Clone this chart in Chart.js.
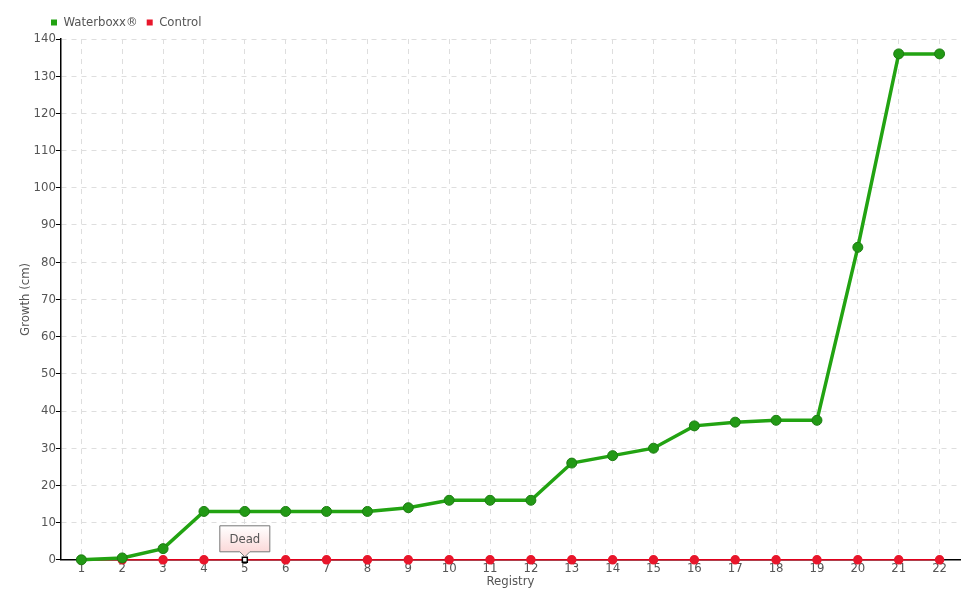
<!DOCTYPE html>
<html>
<head>
<meta charset="utf-8">
<script src="https://cdn.jsdelivr.net/npm/chart.js@4"></script>
<style>
    html, body { margin: 0; padding: 0; background: #fff; }
    #wrap { width: 980px; height: 600px; }
</style>
</head>
<body>
<div id="wrap"><canvas id="chart" width="980" height="600"></canvas></div>
<script>
// Data
const registry = ["1", "2", "3", "4", "5", "6", "7", "8", "9", "10", "11",
    "12", "13", "14", "15", "16", "17", "18", "19", "20", "21", "22"];
const waterboxx = [0, 0.5, 3, 13, 13, 13, 13, 13, 14, 16, 16,
    16, 26, 28, 30, 36, 37, 37.5, 37.5, 84, 136, 136];
const control = [0, 0, 0, 0, 0, 0, 0, 0, 0, 0, 0,
    0, 0, 0, 0, 0, 0, 0, 0, 0, 0, 0];
const deadIndex = 4;
const deadLabel = "Dead";

const FONT = "'DejaVu Sans Condensed', 'Liberation Sans Narrow', sans-serif";

// control point styles: the dead one is a small white square
const ctrlStyle = control.map((v, i) => i === deadIndex ? "rect" : "circle");
const ctrlFill = control.map((v, i) => i === deadIndex ? "#ffffff" : "#e8162b");
const ctrlBorder = control.map((v, i) => i === deadIndex ? "#000000" : "#e8162b");
const ctrlRadius = control.map((v, i) => i === deadIndex ? 3.5 : 4);

// Callout box for the dead plant
const deadCallout = {
    id: "deadCallout",
    afterLayout(chart) {
        // legend sits a little right of the canvas edge
        chart.legend.left += 24;
        chart.legend.right += 24;
    },
    afterDatasetsDraw(chart) {
        const pt = chart.getDatasetMeta(1).data[deadIndex];
        if (!pt) return;
        const ctx = chart.ctx;
        const x = pt.x, y = pt.y;
        const w = 50, h = 26;
        const left = x - 25, top = y - 34;
        ctx.save();
        const grad = ctx.createLinearGradient(0, top, 0, top + h);
        grad.addColorStop(0, "#ffffff");
        grad.addColorStop(1, "#fbd9d9");
        ctx.beginPath();
        ctx.moveTo(left, top);
        ctx.lineTo(left + w, top);
        ctx.lineTo(left + w, top + h);
        ctx.lineTo(x + 5, top + h);
        ctx.lineTo(x, top + h + 5);
        ctx.lineTo(x - 5, top + h);
        ctx.lineTo(left, top + h);
        ctx.closePath();
        ctx.fillStyle = grad;
        ctx.fill();
        ctx.strokeStyle = "#777";
        ctx.lineWidth = 1;
        ctx.stroke();
        ctx.fillStyle = "#555";
        ctx.font = "13px " + FONT;
        ctx.textAlign = "center";
        ctx.textBaseline = "middle";
        ctx.fillText(deadLabel, x, top + h / 2 + 1);
        ctx.restore();
    }
};

new Chart(document.getElementById("chart"), {
    type: "line",
    data: {
        labels: registry,
        datasets: [
            {
                label: "Waterboxx®",
                data: waterboxx,
                borderColor: "#22a312",
                backgroundColor: "#22a312",
                borderWidth: 3.5,
                pointRadius: 5,
                pointBackgroundColor: "#229915",
                pointBorderColor: "#1c7d12",
                pointBorderWidth: 1,
                tension: 0,
                clip: false
            },
            {
                label: "Control",
                data: control,
                borderColor: "#e0001b",
                backgroundColor: "#e8162b",
                borderWidth: 1.5,
                pointStyle: ctrlStyle,
                pointRadius: ctrlRadius,
                pointBackgroundColor: ctrlFill,
                pointBorderColor: ctrlBorder,
                pointBorderWidth: 1.5,
                tension: 0,
                clip: false
            }
        ]
    },
    options: {
        responsive: false,
        animation: false,
        layout: { padding: { left: 18, right: 20, top: 7, bottom: 11 } },
        plugins: {
            legend: {
                position: "top",
                align: "start",
                labels: {
                    boxWidth: 6,
                    boxHeight: 6,
                    padding: 9,
                    color: "#555",
                    font: { family: FONT, size: 13 },
                    generateLabels(chart) {
                        return chart.data.datasets.map((ds, i) => ({
                            text: ds.label,
                            fillStyle: i === 0 ? "#22a312" : "#e8162b",
                            strokeStyle: i === 0 ? "#22a312" : "#e8162b",
                            fontColor: "#555",
                            lineWidth: 0,
                            datasetIndex: i
                        }));
                    }
                }
            },
            tooltip: { enabled: false }
        },
        scales: {
            x: {
                offset: true,
                title: {
                    display: true,
                    text: "Registry",
                    color: "#555",
                    font: { family: FONT, size: 13 },
                    padding: { top: -4, bottom: 0 }
                },
                grid: {
                    color: "#dedede",
                    drawTicks: false,
                    offset: false
                },
                border: { color: "#000", width: 1.5, dash: [5, 5] },
                ticks: {
                    color: "#555",
                    padding: 1,
                    font: { family: FONT, size: 13 },
                    autoSkip: false,
                    maxRotation: 0
                }
            },
            y: {
                min: 0,
                max: 140,
                title: {
                    display: true,
                    text: "Growth (cm)",
                    color: "#555",
                    font: { family: FONT, size: 13 },
                    padding: { top: 0, bottom: 0 }
                },
                grid: {
                    color: "#dedede",
                    tickColor: "#000",
                    tickLength: 5,
                    tickBorderDash: []
                },
                border: { color: "#000", width: 1.5, dash: [5, 5] },
                ticks: {
                    stepSize: 10,
                    color: "#555",
                    padding: 0,
                    font: { family: FONT, size: 13 }
                }
            }
        }
    },
    plugins: [deadCallout]
});
</script>
</body>
</html>
